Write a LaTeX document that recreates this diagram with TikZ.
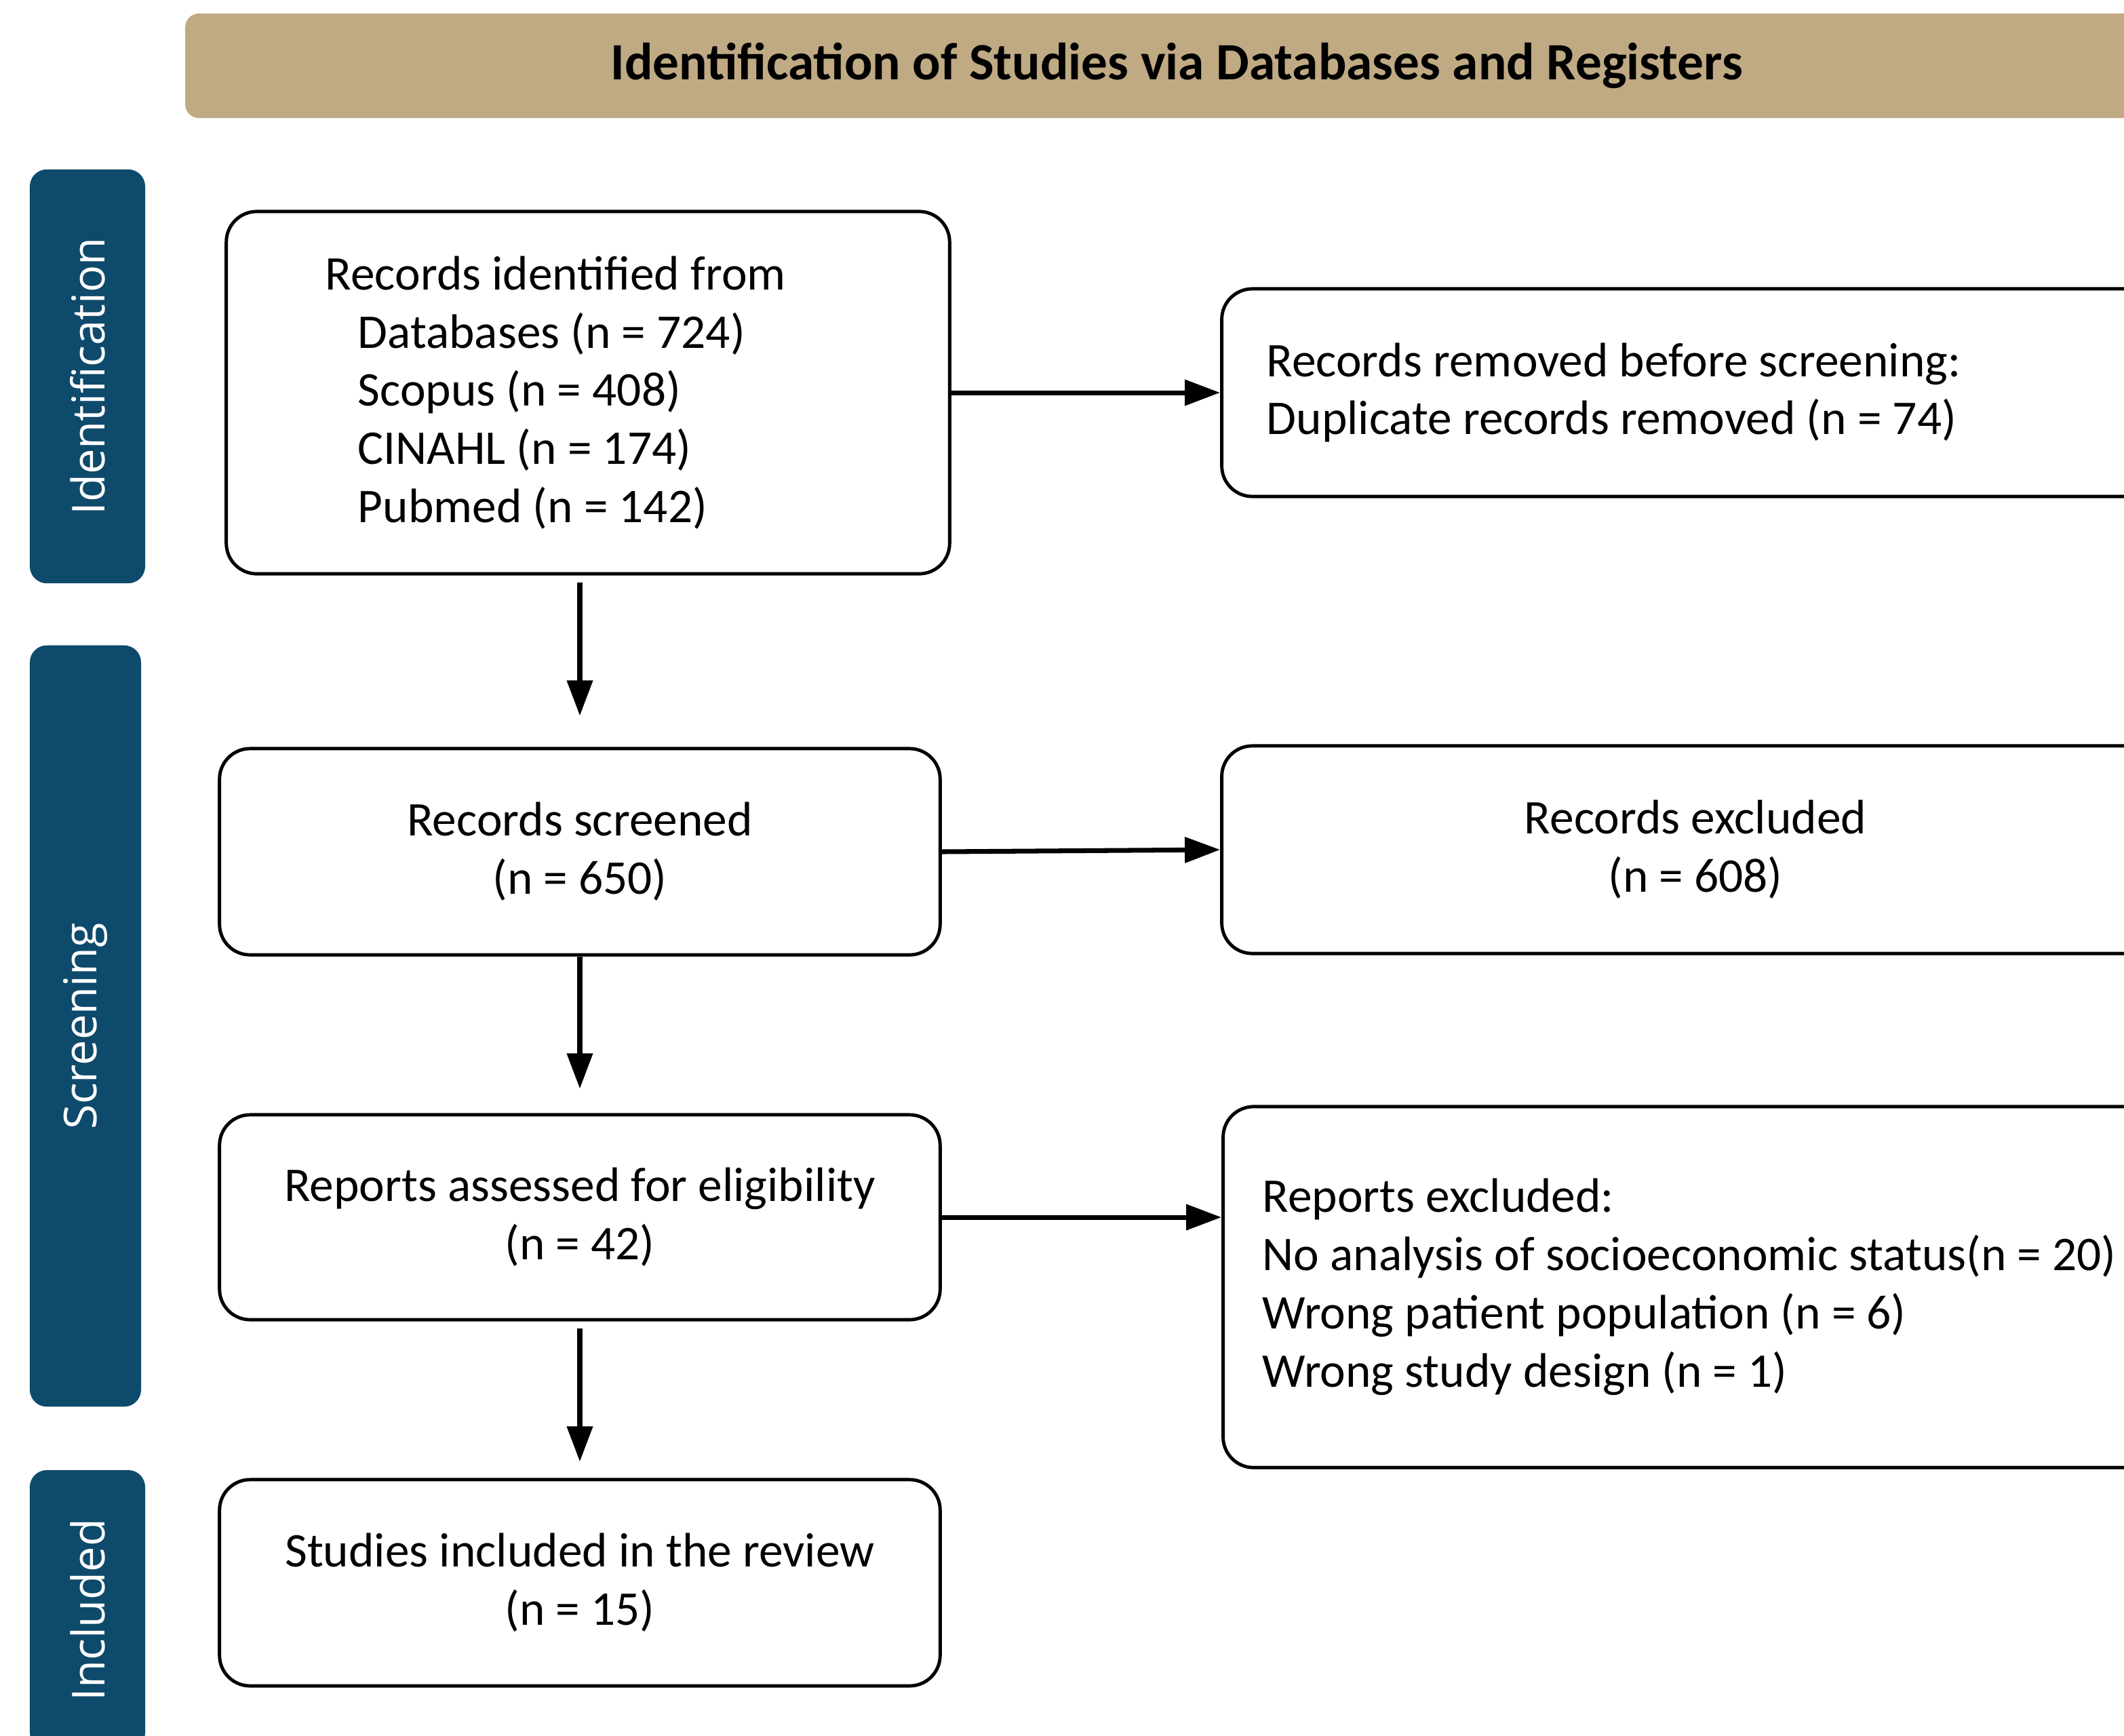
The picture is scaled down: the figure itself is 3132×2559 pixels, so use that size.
\documentclass[tikz,border=0pt]{standalone}
\usepackage{fontspec}
\setmainfont{Carlito}
\newfontfamily\sidefont{Open Sans}
\usetikzlibrary{arrows.meta,positioning}
\definecolor{bannertan}{HTML}{C0AA84}
\definecolor{sidenavy}{HTML}{0E4A6B}

\begin{document}
\begin{tikzpicture}[x=0.01cm, y=-0.01cm,
    font=\fontsize{20.3}{24.4}\selectfont,
    box/.style = {draw, line width=1.4pt, rounded corners=0.45cm, fill=white},
    leftbox/.style = {box, align=flush left},
    sidebar/.style = {fill=sidenavy, rounded corners=0.25cm, rotate=90, text=white,
                      font=\sidefont\fontsize{19}{23}\selectfont},
    banner/.style = {fill=bannertan, rounded corners=0.2cm,
                     font=\bfseries\fontsize{22}{26}\selectfont},
    arr/.style = {-{Triangle[length=0.52cm,width=0.37cm]}, line width=2pt}]
  \useasboundingbox (0,0) rectangle (3132,2559);
  \clip (0,0) rectangle (3132,2559);
  % heading and phase bars
  \node[banner, minimum width=29.22cm, minimum height=1.54cm] (title) at (1735,97)
       {Identification of Studies via Databases and Registers};
  \node[sidebar, minimum width=6.10cm, minimum height=1.70cm] (idbar) at (129,555) {Identification};
  \node[sidebar, minimum width=11.22cm, minimum height=1.64cm] (scrbar) at (126,1513) {Screening};
  \node[sidebar, minimum width=4.12cm, minimum height=1.70cm] (incbar) at (129,2374) {Included};
  % flow boxes
  \node[leftbox, text width=7.74cm, inner xsep=1.46cm, minimum height=5.34cm] (ident) at (867,579)
       {Records identified from\\
        \hspace*{0.48cm}Databases (n = 724)\\
        \hspace*{0.48cm}Scopus (n = 408)\\
        \hspace*{0.48cm}CINAHL (n = 174)\\
        \hspace*{0.48cm}Pubmed (n = 142)};
  \node[leftbox, text width=12.64cm, inner xsep=0.66cm, minimum height=3.06cm] (removed) at (2500,579)
       {Records removed before screening:\\ Duplicate records removed (n = 74)};
  \node[box, align=center, minimum width=10.62cm, minimum height=3.04cm] (screened) at (855,1256)
       {Records screened\\ (n = 650)};
  \node[box, align=center, minimum width=13.96cm, minimum height=3.06cm] (excluded) at (2500,1253)
       {Records excluded\\ (n = 608)};
  \node[box, align=center, minimum width=10.62cm, minimum height=3.02cm] (assessed) at (855,1795)
       {Reports assessed for eligibility\\ (n = 42)};
  \node[leftbox, text width=13.2cm, inner xsep=0.58cm, minimum height=5.32cm] (repexcl) at (2522,1898)
       {Reports excluded:\\
        No analysis of socioeconomic status(n = 20)\\
        Wrong patient population (n = 6)\\
        Wrong study design (n = 1)};
  \node[box, align=center, minimum width=10.62cm, minimum height=3.04cm] (included) at (855,2334)
       {Studies included in the review\\ (n = 15)};
  % connectors
  \draw[arr] (ident.east) -- (removed.west);
  \draw[arr] (screened.east) -- (excluded.west);
  \draw[arr] (assessed.east) -- (assessed.east -| repexcl.west);
  \draw[arr, shorten <=0.10cm, shorten >=0.46cm] (ident.south -| screened.north) -- (screened.north);
  \draw[arr, shorten >=0.36cm] (screened.south) -- (assessed.north);
  \draw[arr, shorten <=0.10cm, shorten >=0.24cm] (assessed.south) -- (included.north);
\end{tikzpicture}
\end{document}
